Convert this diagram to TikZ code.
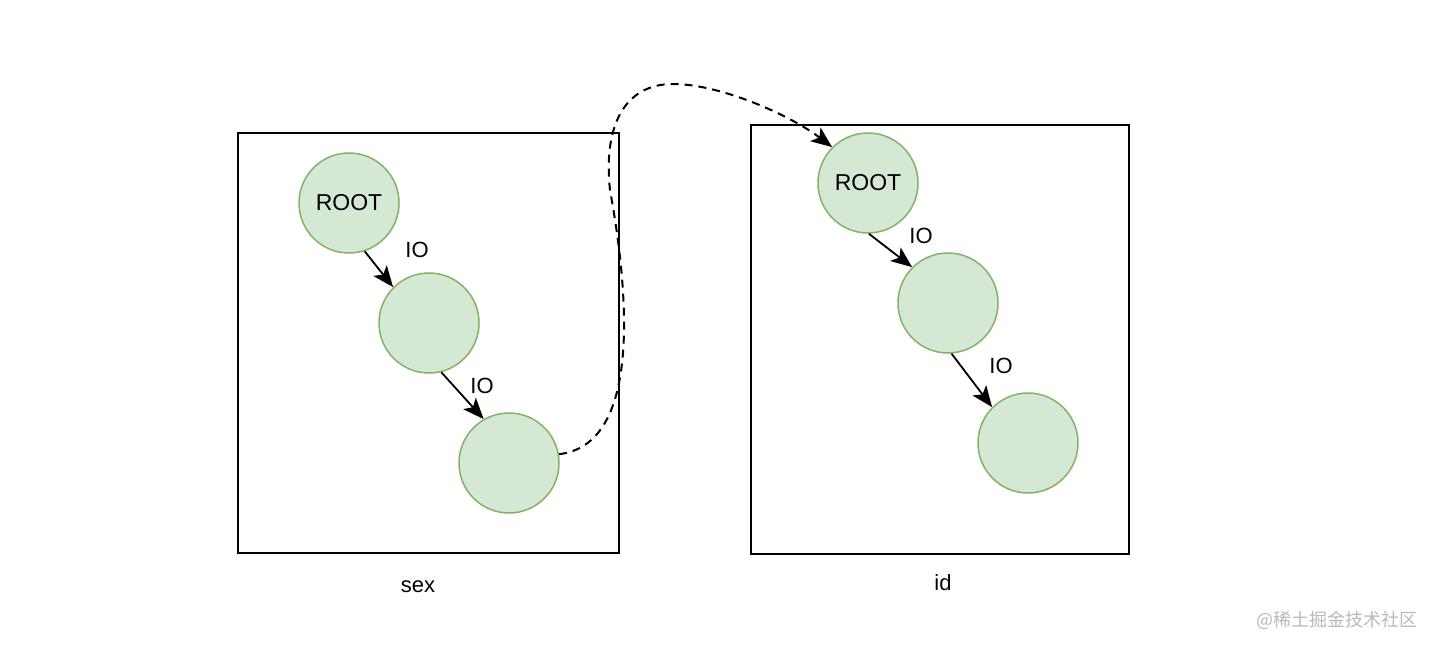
\documentclass[tikz,border=0pt]{standalone}
\usepackage{fontspec}
\setmainfont{Liberation Sans}
\newfontfamily\cjkfont{Noto Sans CJK SC}
\usetikzlibrary{arrows.meta}
\definecolor{nodefill}{HTML}{D5E8D4}
\definecolor{nodeline}{HTML}{82B366}
\tikzset{
  tree/.style={circle, draw=nodeline, fill=nodefill, line width=1.5pt,
    minimum size=100pt, inner sep=0pt, font=\fontsize{23}{27}\selectfont},
  frame/.style={draw, line width=2pt},
  io/.style={-{Stealth[length=21pt,width=17pt,inset=5pt]}, line width=1.8pt},
  lbl/.style={font=\fontsize{22}{26}\selectfont},
}
\begin{document}
\begin{tikzpicture}[x=1pt,y=-1pt]
    \useasboundingbox (0,0) rectangle (1436,650);

    % Frames of the two indexes
    \draw[frame] (238,133) rectangle (619,553);
    \draw[frame] (751,125) rectangle (1129,554);
    \node[lbl] (sex) at (418,587) {sex};
    \node[lbl] (id) at (943,583) {id};

    % Left tree (sex)
    \node[tree] (s1) at (349,203) {ROOT};
    \node[tree] (s2) at (429,323) {};
    \node[tree] (s3) at (509,463) {};
    \draw[io] (s1.-72) -- (s2.135);
    \draw[io] (s2.-76) -- (s3.120);
    \node[lbl] (sio1) at (417,250) {IO};
    \node[lbl] (sio2) at (482,386) {IO};

    % Right tree (id)
    \node[tree] (i1) at (868,183) {ROOT};
    \node[tree] (i2) at (948,303) {};
    \node[tree] (i3) at (1028,443) {};
    \draw[io] (i1.-89) -- (i2.135);
    \draw[io] (i2.-86) -- (i3.135);
    \node[lbl] (iio1) at (921,236) {IO};
    \node[lbl] (iio2) at (1001,366) {IO};

    % Jump from the sex leaf back to the id root
    \draw[io, line width=2pt, dash pattern=on 8pt off 6pt] (s3.10)
        .. controls (640,445) and (630,300) .. (610,190)
        .. controls (603,125) and (625,84) .. (673,84)
        .. controls (720,84) and (790,115) .. (i1.north west);

    % Watermark
    \node[font=\cjkfont\fontsize{18}{21}\selectfont, text=gray!55] (mark) at (1337,620) {@稀土掘金技术社区};
\end{tikzpicture}
\end{document}
